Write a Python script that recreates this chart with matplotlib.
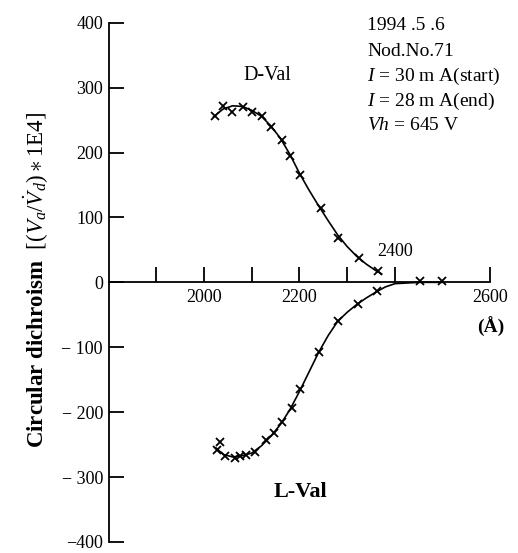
import matplotlib
matplotlib.use('Agg')
import matplotlib.pyplot as plt

# D-Val measured points
d_x = [2022, 2040, 2059, 2082, 2101, 2121, 2140, 2163, 2180, 2202, 2245, 2281, 2325, 2365]
d_y = [257, 271, 263, 270, 262, 257, 240, 219, 195, 165, 115, 68, 37, 17]
# D-Val fitted curve
d_cx = [2020, 2040, 2060, 2080, 2100, 2120, 2140, 2160, 2180, 2200, 2220, 2240, 2260, 2280, 2300, 2320, 2340, 2360, 2372]
d_cy = [255, 267, 272, 271, 265, 256, 241, 222, 197, 168, 142, 118, 95, 73, 55, 40, 28, 18, 13]

# L-Val measured points
l_x = [2027, 2034, 2044, 2064, 2075, 2089, 2107, 2129, 2147, 2164, 2184, 2202, 2241, 2281, 2322, 2363, 2452, 2499]
l_y = [-258, -246, -268, -270, -268, -266, -261, -243, -232, -215, -193, -165, -107, -60, -34, -14, 2, 2]
# L-Val fitted curve
l_cx = [2025, 2040, 2060, 2080, 2100, 2120, 2140, 2160, 2180, 2200, 2220, 2240, 2260, 2280, 2300, 2320, 2340, 2360, 2380, 2400, 2450, 2500]
l_cy = [-255, -265, -269, -267, -263, -252, -237, -219, -196, -168, -138, -108, -82, -60, -46, -34, -24, -15, -7, -2, 0, 0]

yticks = [-400, -300, -200, -100, 0, 100, 200, 300, 400]
ylabels = ['\u2212400', '\u2212 300', '\u2212 200', '\u2212 100', '0', '100', '200', '300', '400']
xticks = [1900, 2000, 2100, 2200, 2300, 2400, 2600]
xlabels_below = [2000, 2200, 2600]

info = ['1994 .5 .6', 'Nod.No.71', '$I$ = 30 m A(start)', '$I$ = 28 m A(end)', '$Vh$ = 645 V']

plt.rcParams['font.family'] = 'Liberation Serif'
plt.rcParams['mathtext.fontset'] = 'custom'
plt.rcParams['mathtext.it'] = 'Liberation Serif:italic'
plt.rcParams['mathtext.rm'] = 'Liberation Serif'
plt.rcParams['mathtext.bf'] = 'Liberation Serif:bold'

fig = plt.figure(figsize=(5.18, 5.53), dpi=100)
ax = fig.add_axes([108.5 / 518, 1 - 542 / 553, 382 / 518, (542 - 22.7) / 553])

ax.plot(d_cx, d_cy, color='black', lw=1.2)
ax.plot(d_x, d_y, 'x', color='black', ms=6, mew=1.3)
ax.plot(l_cx, l_cy, color='black', lw=1.2)
ax.plot(l_x, l_y, 'x', color='black', ms=6, mew=1.3)

ax.set_xlim(1800, 2600)
ax.set_ylim(-400, 400)

ax.spines['top'].set_visible(False)
ax.spines['right'].set_visible(False)
ax.spines['bottom'].set_position(('data', 0))
ax.spines['left'].set_linewidth(1.3)
ax.spines['bottom'].set_linewidth(1.3)

ax.set_yticks(yticks)
ax.set_yticklabels(ylabels)
ax.tick_params(axis='y', direction='in', length=11, width=1.3, pad=4, labelsize=13)
ax.set_xticks(xticks)
ax.set_xticklabels([''] * len(xticks))
ax.tick_params(axis='x', direction='in', length=11, width=1.3)

for xv in xlabels_below:
    ax.text(xv, -24, str(xv), ha='center', va='center', fontsize=13)
ax.text(2400, 47, '2400', ha='center', va='center', fontsize=13)
ax.text(2600, -68, '(\u00c5)', ha='center', va='center', fontsize=14, fontweight='bold')

ax.text(2133, 318, 'D-Val', ha='center', va='center', fontsize=14.5)
ax.text(2201, -323, 'L-Val', ha='center', va='center', fontsize=16, fontweight='bold')

for i, line in enumerate(info):
    fig.text(367 / 518, 1 - (26 + 25 * i) / 553, line, ha='left', va='center', fontsize=14)

fig.text(36 / 518, 1 - 280 / 553,
         r'Circular dichroism  $[(V_a/\dot{V}_d)\ast 1\mathrm{E}4]$',
         rotation=90, ha='center', va='center', fontsize=16.5, fontweight='bold')

fig.savefig('out.png', dpi=100)
